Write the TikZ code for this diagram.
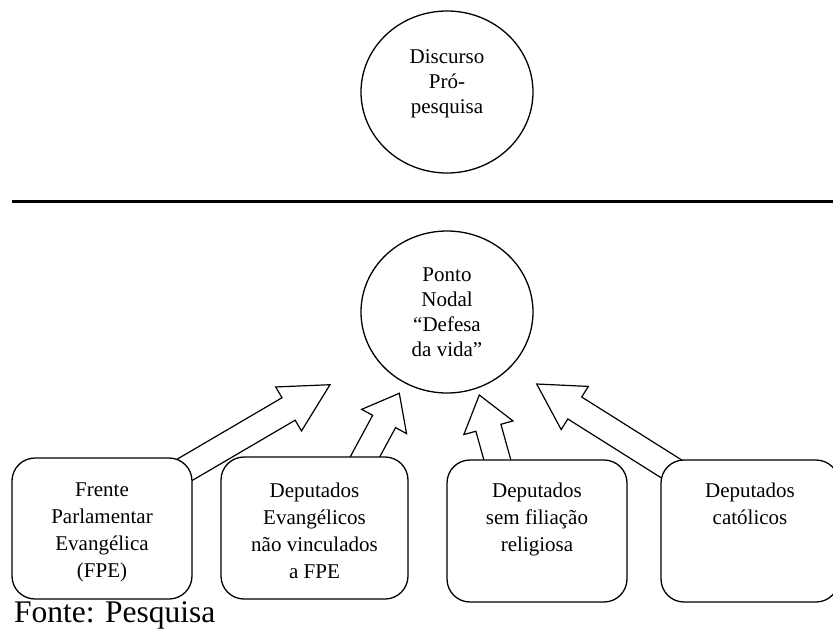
\documentclass[tikz,border=0pt]{standalone}
\usepackage{fontspec}
\setmainfont{Liberation Serif}
\usetikzlibrary{calc,shapes.geometric}
\tikzset{
  ring/.style={ellipse, draw, line width=1.3pt, minimum width=172pt, minimum height=162pt, inner sep=0pt, fill=white, align=center, font=\fontsize{21}{25}\selectfont},
  ringtext/.style={align=center, font=\fontsize{21}{25}\selectfont, inner sep=0pt},
  card/.style={draw, line width=1.3pt, rounded corners=23pt, fill=white, inner sep=0pt},
  cardtext/.style={align=center, font=\fontsize{21}{27}\selectfont, inner sep=0pt, anchor=north},
  blockline/.style={draw, line width=1.2pt, fill=white, line join=miter},
  sepline/.style={line width=3pt},
  sourcetext/.style={anchor=base west, inner sep=0pt, font=\fontsize{31.5}{36}\selectfont},
}
% #1 tail, #2 tip, #3 head length
\newcommand{\blockarrow}[3]{%
  \coordinate (ba-h) at ($(#2)!#3!(#1)$);
  \path[blockline] ($(#1)!13pt!90:(#2)$) -- ($(ba-h)!13pt!90:(#2)$) -- ($(ba-h)!25.5pt!90:(#2)$) -- (#2)
     -- ($(ba-h)!25.5pt!-90:(#2)$) -- ($(ba-h)!13pt!-90:(#2)$) -- ($(#1)!13pt!-90:(#2)$) -- cycle;
}
\begin{document}
\begin{tikzpicture}[x=1pt,y=-1pt]
\useasboundingbox (0,0) rectangle (833,630);

% upper part
\node[ring] (disc) at (447,92) {};
\node[ringtext] (disctext) at (447,84) {Discurso\\Pró-\\pesquisa};

% separator
\coordinate (sepL) at (12,201.5);
\coordinate (sepR) at (833,201.5);
\draw[sepline] (sepL) -- (sepR);

% nodal point
\node[ring] (nodal) at (447,312) {Ponto\\Nodal\\“Defesa\\da vida”};

% arrow ends
\coordinate (tail1) at (174.8,475.6);
\coordinate (tip1) at (330,384.7);
\coordinate (tail2) at (356.6,472.4);
\coordinate (tip2) at (399.3,393.3);
\coordinate (tail3) at (503.4,481.7);
\coordinate (tip3) at (479.3,395);
\coordinate (tail4) at (680.5,474.6);
\coordinate (tip4) at (536.7,384);

\blockarrow{tail1}{tip1}{48pt}
\blockarrow{tail2}{tip2}{32pt}
\blockarrow{tail3}{tip3}{34pt}
\blockarrow{tail4}{tip4}{45pt}

% boxes
\node[card, minimum width=180pt, minimum height=141pt] (b1) at (102,528.5) {};
\node[card, minimum width=187pt, minimum height=142pt] (b2) at (314.5,528) {};
\node[card, minimum width=180pt, minimum height=142pt] (b3) at (537,531) {};
\node[card, minimum width=178pt, minimum height=142pt] (b4) at (750,531) {};

\node[cardtext] (t1) at (b1.center |- 0,482.5) {Frente\\Parlamentar\\Evangélica\\(FPE)};
\node[cardtext] (t2) at (b2.center |- 0,482.5) {Deputados\\Evangélicos\\não vinculados\\a FPE};
\node[cardtext] (t3) at (b3.center |- 0,482.5) {Deputados\\sem filiação\\religiosa};
\node[cardtext] (t4) at (b4.center |- 0,482.5) {Deputados\\católicos};

\node[sourcetext] (src) at (14,622.5) {Fonte: Pesquisa};
\end{tikzpicture}
\end{document}
